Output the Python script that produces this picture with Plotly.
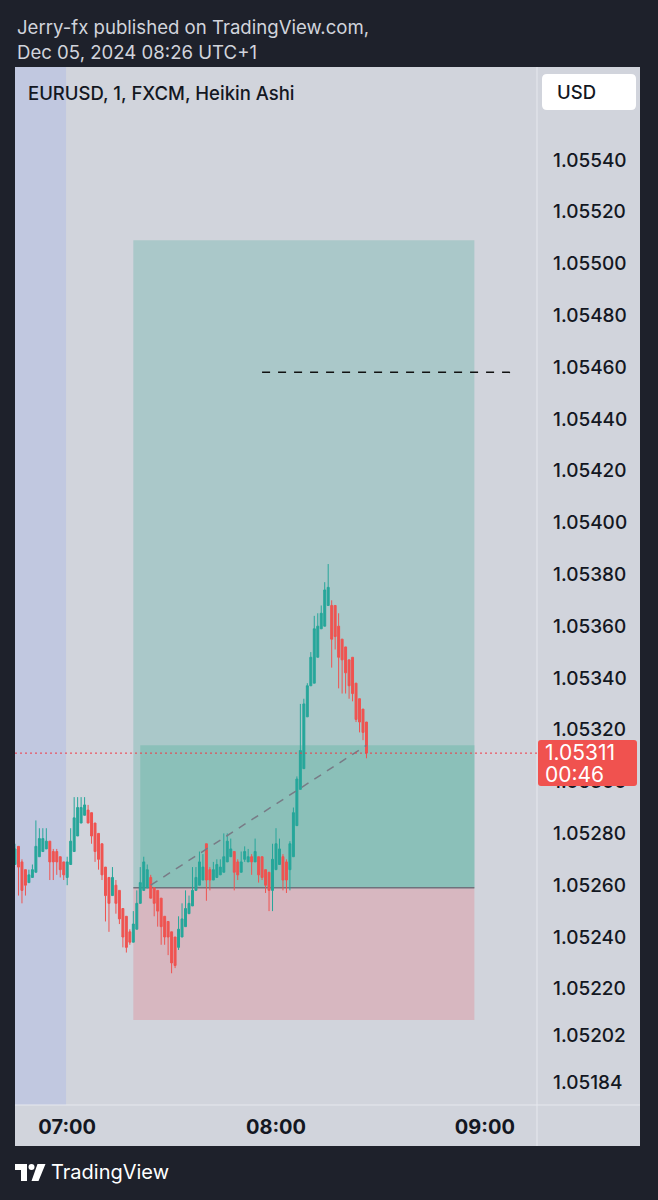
import plotly.graph_objects as go
import pandas as pd

# ---------------- data (EURUSD 1m Heikin Ashi, 06:45 -> 08:26) ----------------
start_time = "2024-12-05 06:45"
n_bars = 102
open_ = [1.05268, 1.05275, 1.05269, 1.05266, 1.05261, 1.05263, 1.05265, 1.05271, 1.05273, 1.05274,
         1.05277, 1.05273, 1.05273, 1.05271, 1.05269, 1.05263, 1.05268, 1.05273, 1.05279, 1.05284,
         1.05287, 1.05289, 1.05288, 1.05284, 1.05280, 1.05276, 1.05267, 1.05263, 1.05256, 1.05260,
         1.05258, 1.05251, 1.05248, 1.05242, 1.05238, 1.05243, 1.05253, 1.05258, 1.05259, 1.05263,
         1.05259, 1.05258, 1.05255, 1.05248, 1.05246, 1.05242, 1.05240, 1.05236, 1.05240, 1.05244,
         1.05249, 1.05252, 1.05258, 1.05260, 1.05262, 1.05276, 1.05266, 1.05262, 1.05263, 1.05264,
         1.05265, 1.05269, 1.05271, 1.05273, 1.05269, 1.05265, 1.05270, 1.05269, 1.05271, 1.05269,
         1.05271, 1.05271, 1.05266, 1.05265, 1.05258, 1.05266, 1.05268, 1.05271, 1.05269, 1.05266,
         1.05271, 1.05283, 1.05297, 1.05305, 1.05325, 1.05337, 1.05338, 1.05348, 1.05359, 1.05360,
         1.05368, 1.05368, 1.05368, 1.05360, 1.05355, 1.05352, 1.05347, 1.05348, 1.05338, 1.05332,
         1.05328, 1.05323]
high = [1.05276, 1.05275, 1.05270, 1.05266, 1.05266, 1.05268, 1.05285, 1.05282, 1.05282, 1.05282,
        1.05277, 1.05274, 1.05274, 1.05271, 1.05269, 1.05271, 1.05282, 1.05294, 1.05294, 1.05294,
        1.05294, 1.05291, 1.05288, 1.05284, 1.05280, 1.05276, 1.05267, 1.05263, 1.05267, 1.05262,
        1.05258, 1.05251, 1.05248, 1.05243, 1.05250, 1.05258, 1.05267, 1.05271, 1.05268, 1.05264,
        1.05259, 1.05258, 1.05255, 1.05248, 1.05246, 1.05242, 1.05240, 1.05248, 1.05253, 1.05258,
        1.05256, 1.05267, 1.05267, 1.05273, 1.05272, 1.05276, 1.05267, 1.05269, 1.05270, 1.05270,
        1.05280, 1.05280, 1.05278, 1.05273, 1.05270, 1.05273, 1.05275, 1.05274, 1.05272, 1.05278,
        1.05271, 1.05271, 1.05266, 1.05265, 1.05276, 1.05282, 1.05278, 1.05272, 1.05270, 1.05277,
        1.05290, 1.05302, 1.05330, 1.05332, 1.05338, 1.05350, 1.05364, 1.05365, 1.05368, 1.05377,
        1.05384, 1.05370, 1.05368, 1.05365, 1.05355, 1.05352, 1.05347, 1.05348, 1.05338, 1.05332,
        1.05328, 1.05323]
low = [1.05268, 1.05256, 1.05253, 1.05256, 1.05261, 1.05263, 1.05265, 1.05271, 1.05273, 1.05274,
       1.05262, 1.05262, 1.05264, 1.05263, 1.05262, 1.05260, 1.05268, 1.05273, 1.05279, 1.05284,
       1.05287, 1.05284, 1.05276, 1.05269, 1.05266, 1.05262, 1.05246, 1.05242, 1.05256, 1.05249,
       1.05245, 1.05236, 1.05234, 1.05237, 1.05238, 1.05243, 1.05253, 1.05258, 1.05259, 1.05255,
       1.05248, 1.05244, 1.05237, 1.05237, 1.05233, 1.05226, 1.05228, 1.05235, 1.05240, 1.05244,
       1.05249, 1.05252, 1.05258, 1.05260, 1.05262, 1.05254, 1.05258, 1.05262, 1.05263, 1.05264,
       1.05265, 1.05269, 1.05271, 1.05258, 1.05262, 1.05265, 1.05269, 1.05269, 1.05264, 1.05269,
       1.05261, 1.05262, 1.05257, 1.05250, 1.05250, 1.05266, 1.05268, 1.05258, 1.05257, 1.05258,
       1.05271, 1.05283, 1.05297, 1.05305, 1.05325, 1.05337, 1.05338, 1.05348, 1.05359, 1.05360,
       1.05368, 1.05344, 1.05351, 1.05336, 1.05334, 1.05334, 1.05332, 1.05331, 1.05323, 1.05319,
       1.05316, 1.05309]
close = [1.05274, 1.05267, 1.05258, 1.05260, 1.05264, 1.05266, 1.05275, 1.05278, 1.05278, 1.05277,
         1.05269, 1.05269, 1.05269, 1.05266, 1.05264, 1.05269, 1.05277, 1.05286, 1.05290, 1.05290,
         1.05291, 1.05284, 1.05279, 1.05273, 1.05270, 1.05264, 1.05256, 1.05253, 1.05263, 1.05253,
         1.05247, 1.05240, 1.05236, 1.05238, 1.05245, 1.05253, 1.05261, 1.05269, 1.05266, 1.05255,
         1.05253, 1.05250, 1.05244, 1.05240, 1.05240, 1.05230, 1.05229, 1.05243, 1.05247, 1.05251,
         1.05253, 1.05258, 1.05263, 1.05269, 1.05267, 1.05262, 1.05262, 1.05266, 1.05268, 1.05267,
         1.05271, 1.05277, 1.05274, 1.05265, 1.05264, 1.05269, 1.05273, 1.05271, 1.05269, 1.05273,
         1.05264, 1.05263, 1.05260, 1.05258, 1.05270, 1.05276, 1.05274, 1.05262, 1.05262, 1.05276,
         1.05288, 1.05301, 1.05312, 1.05330, 1.05337, 1.05348, 1.05359, 1.05360, 1.05365, 1.05374,
         1.05375, 1.05355, 1.05356, 1.05348, 1.05347, 1.05342, 1.05337, 1.05334, 1.05324, 1.05323,
         1.05319, 1.05311]

price_ticks = [1.05540, 1.05520, 1.05500, 1.05480, 1.05460, 1.05440, 1.05420, 1.05400, 1.05380,
               1.05360, 1.05340, 1.05320, 1.05300, 1.05280, 1.05260, 1.05240, 1.05220, 1.05202, 1.05184]
time_ticks = ["2024-12-05 07:00", "2024-12-05 08:00", "2024-12-05 09:00"]
time_labels = ["07:00", "08:00", "09:00"]

# long position tool
pos_start, pos_end = "2024-12-05 07:19", "2024-12-05 08:57"
entry_price, target_price, stop_price = 1.05259, 1.05509, 1.05208
current_price = 1.05311
current_label = "1.05311"
countdown = "00:46"
fill_start, fill_top = "2024-12-05 07:21", 1.05314
conn_start, conn_end = ("2024-12-05 07:24", 1.05260), ("2024-12-05 08:26", 1.05314)
level_price, level_start, level_end = 1.05458, "2024-12-05 07:56", "2024-12-05 09:08:30"
session_end = "2024-12-05 06:59:40"

x_range = ["2024-12-05 06:45", "2024-12-05 09:15"]
y_range = [1.0517514, 1.055759]

times = pd.date_range(start_time, periods=n_bars, freq="min")

# ---------------- layout helpers ----------------
W, H = 658, 1200
L, R, T, B = 15, 121, 67, 95
PW, PH = W - L - R, H - T - B


def px(x):
    return (x - L) / PW


def py(y):
    return (H - B - y) / PH


def rrect(x0, y0, x1, y1, r):
    pts = [
        f"M {px(x0 + r)},{py(y0)}", f"L {px(x1 - r)},{py(y0)}", f"Q {px(x1)},{py(y0)} {px(x1)},{py(y0 + r)}",
        f"L {px(x1)},{py(y1 - r)}", f"Q {px(x1)},{py(y1)} {px(x1 - r)},{py(y1)}",
        f"L {px(x0 + r)},{py(y1)}", f"Q {px(x0)},{py(y1)} {px(x0)},{py(y1 - r)}",
        f"L {px(x0)},{py(y0 + r)}", f"Q {px(x0)},{py(y0)} {px(x0 + r)},{py(y0)}", "Z"]
    return " ".join(pts)


def poly(points):
    return "M " + " L ".join(f"{px(a)},{py(b)}" for a, b in points) + " Z"


TEAL, RED = "#26a69a", "#ef5350"
PANEL = "#d1d4dc"
DARK = "#1e212b"
FONT = "Inter"

fig = go.Figure()
fig.add_trace(go.Candlestick(
    x=times, open=open_, high=high, low=low, close=close,
    increasing=dict(line=dict(color=TEAL, width=1), fillcolor=TEAL),
    decreasing=dict(line=dict(color=RED, width=1), fillcolor=RED),
    whiskerwidth=0, showlegend=False, hoverinfo="skip"))

shapes = [
    # chart panel (plot + scales)
    dict(type="rect", xref="paper", yref="paper", x0=px(15), x1=px(640), y0=py(1146), y1=py(67),
         fillcolor=PANEL, line=dict(width=0), layer="below"),
    # session highlight
    dict(type="rect", xref="x", yref="paper", x0=x_range[0], x1=session_end, y0=0, y1=1,
         fillcolor="#c1c8e0", line=dict(width=0), layer="below"),
    # long position: target zone
    dict(type="rect", xref="x", yref="y", x0=pos_start, x1=pos_end, y0=entry_price, y1=target_price,
         fillcolor="#aac8c9", line=dict(width=0), layer="below"),
    # long position: stop zone
    dict(type="rect", xref="x", yref="y", x0=pos_start, x1=pos_end, y0=stop_price, y1=entry_price,
         fillcolor="#d7b7c0", line=dict(width=0), layer="below"),
    # open profit zone
    dict(type="rect", xref="x", yref="y", x0=fill_start, x1=pos_end, y0=entry_price, y1=fill_top,
         fillcolor="#8bc0b9", line=dict(width=0), layer="below"),
    # entry line
    dict(type="line", xref="x", yref="y", x0=pos_start, x1=pos_end, y0=entry_price, y1=entry_price,
         line=dict(color="#6f727c", width=1.5), layer="below"),
    # scale separators
    dict(type="line", xref="paper", yref="paper", x0=1, x1=1, y0=py(1146), y1=1,
         line=dict(color="#e6e8ee", width=1)),
    dict(type="line", xref="paper", yref="paper", x0=0, x1=px(640), y0=0, y1=0,
         line=dict(color="#e6e8ee", width=1)),
    # dashed connection entry -> current
    dict(type="line", xref="x", yref="y", x0=conn_start[0], y0=conn_start[1], x1=conn_end[0], y1=conn_end[1],
         line=dict(color="#787b86", width=1.5, dash="8px,7px")),
    # black dashed level
    dict(type="line", xref="x", yref="y", x0=level_start, x1=level_end, y0=level_price, y1=level_price,
         line=dict(color="#111111", width=1.5, dash="8px,8px")),
    # current price dotted line
    dict(type="line", xref="paper", yref="y", x0=0, x1=1, y0=current_price, y1=current_price,
         line=dict(color="#f23645", width=1, dash="2px,3px")),
    # USD box
    dict(type="path", xref="paper", yref="paper", path=rrect(542, 74, 636, 110, 5),
         fillcolor="#ffffff", line=dict(width=0)),
    # current price label
    dict(type="path", xref="paper", yref="paper", path=rrect(538, 740, 637, 786, 3),
         fillcolor="#f0524f", line=dict(width=0)),
    # TradingView logo
    dict(type="path", xref="paper", yref="paper",
         path=poly([(15, 1164), (27, 1164), (27, 1181), (21, 1181), (21, 1170), (15, 1170)]),
         fillcolor="#ffffff", line=dict(width=0)),
    dict(type="circle", xref="paper", yref="paper", x0=px(28.5), x1=px(34.5), y0=py(1170), y1=py(1164),
         fillcolor="#ffffff", line=dict(width=0)),
    dict(type="path", xref="paper", yref="paper",
         path=poly([(37.5, 1164), (45.5, 1164), (38.5, 1181), (31.5, 1181)]),
         fillcolor="#ffffff", line=dict(width=0)),
]

annotations = [
    dict(text="Jerry-fx published on TradingView.com,", x=px(15), y=py(27)),
    dict(text="Dec 05, 2024 08:26 UTC+1", x=px(15), y=py(52)),
]
annotations = [dict(a, xref="paper", yref="paper", xanchor="left", yanchor="middle", showarrow=False,
                    font=dict(family=FONT, size=18.6, color="#d1d4dc")) for a in annotations]
annotations += [
    dict(text="EURUSD, 1, FXCM, Heikin Ashi", x=px(26), y=py(93), xref="paper", yref="paper",
         xanchor="left", yanchor="middle", showarrow=False,
         font=dict(family=FONT, size=18.5, color="#131722", weight=500)),
    dict(text="USD", x=px(555), y=py(92), xref="paper", yref="paper", xanchor="left", yanchor="middle",
         showarrow=False, font=dict(family=FONT, size=18.5, color="#131722", weight=500)),
    dict(text=current_label, x=px(543), y=py(752), xref="paper", yref="paper", xanchor="left",
         yanchor="middle", showarrow=False, font=dict(family=FONT, size=21, color="#ffffff")),
    dict(text=countdown, x=px(543), y=py(774), xref="paper", yref="paper", xanchor="left",
         yanchor="middle", showarrow=False, font=dict(family=FONT, size=21, color="#ffffff")),
    dict(text="TradingView", x=px(49), y=py(1172), xref="paper", yref="paper", xanchor="left",
         yanchor="middle", showarrow=False, font=dict(family=FONT, size=20, color="#ffffff")),
]

fig.update_layout(
    width=W, height=H, margin=dict(l=L, r=R, t=T, b=B),
    paper_bgcolor=DARK, plot_bgcolor="rgba(0,0,0,0)",
    shapes=shapes, annotations=annotations, showlegend=False, hovermode=False,
    boxgap=0.2,
    xaxis=dict(type="date", range=x_range, rangeslider=dict(visible=False), showgrid=False,
               zeroline=False, showline=False, ticks="", tickvals=time_ticks, ticktext=time_labels,
               tickfont=dict(family=FONT, size=20, color="#131722", weight="bold"),
               ticklabelstandoff=8),
    yaxis=dict(side="right", range=y_range, showgrid=False, zeroline=False, showline=False, ticks="",
               tickvals=price_ticks, ticktext=[f"{v:.5f}" for v in price_ticks],
               tickfont=dict(family=FONT, size=19, color="#131722", weight=500),
               ticklabelstandoff=15),
)

fig.write_html("out.html", config={"displayModeBar": False},
               post_script="document.body.style.margin='0';document.body.style.background='#1e212b';")
